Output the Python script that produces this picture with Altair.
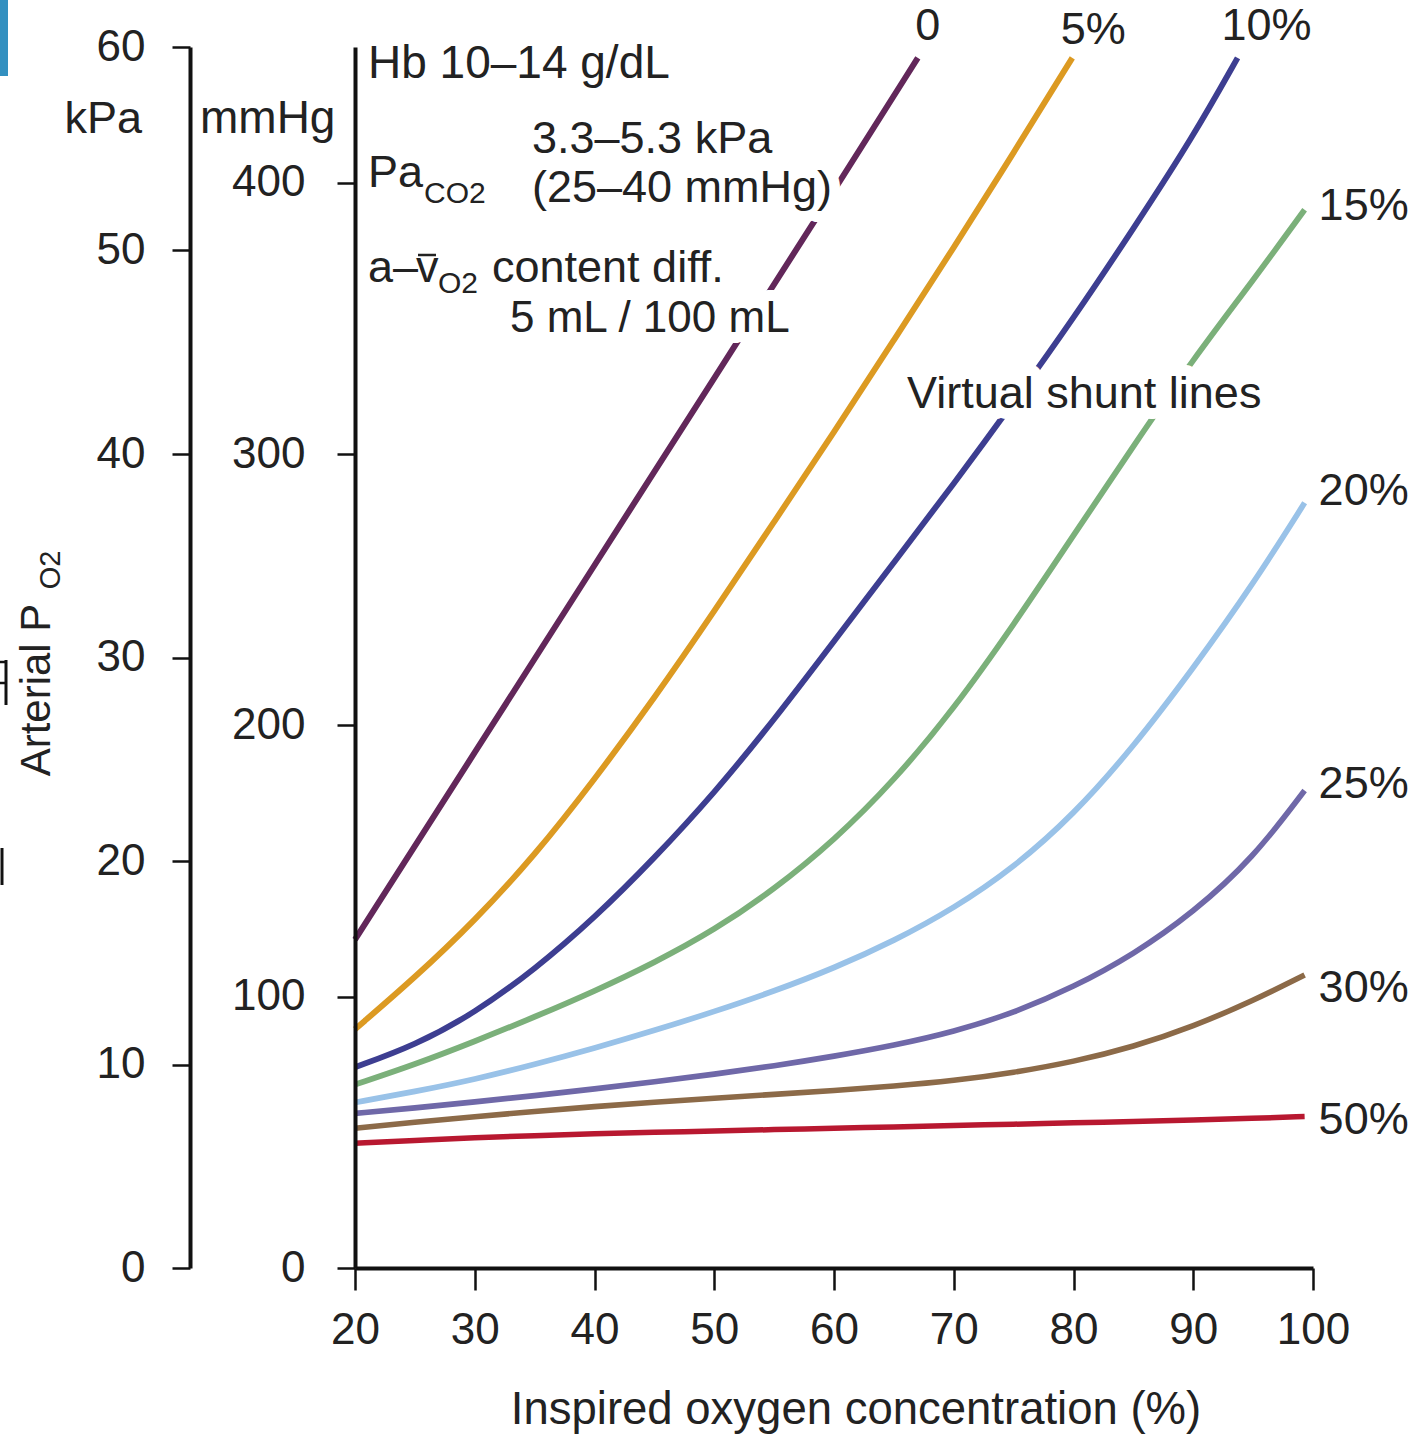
import altair as alt
import pandas as pd

# ---------------- data ----------------
shunts = ["0", "5%", "10%", "15%", "20%", "25%", "30%", "50%"]

fio2_0 = [20, 30, 40, 50, 60, 67]
pao2_0 = [121, 190, 259, 328, 397, 446]

fio2_5 = [20, 25, 30, 35, 40, 45, 50, 55, 60, 65, 70, 75, 79.9]
pao2_5 = [88, 107, 128, 152, 180, 210, 242, 275, 308, 342, 376, 411, 446]

fio2_10 = [20, 25, 30, 35, 40, 45, 50, 55, 60, 65, 70, 75, 80, 85, 90, 93.7]
pao2_10 = [74, 82, 94, 110, 129, 151, 175, 202, 231, 260, 289, 319, 350, 383, 417, 446]

fio2_grid = [20, 25, 30, 35, 40, 45, 50, 55, 60, 65, 70, 75, 80, 85, 90, 95, 99.3]
pao2_15 = [67.6, 75, 83.5, 92.5, 102, 112.5, 124.5, 139.5, 157.5, 179.5, 206, 237, 270, 303, 335, 364, 390]
pao2_20 = [61, 65, 69.5, 75, 81, 87.5, 94.5, 102, 110.5, 120.5, 132.5, 147.5, 167, 192, 221, 252, 282]
pao2_25 = [57, 59, 61.2, 63.5, 66, 68.6, 71.4, 74.5, 78, 82, 87, 94, 103.5, 115.5, 131, 151, 176]
pao2_30 = [51.5, 53.7, 55.8, 57.7, 59.5, 61.1, 62.6, 64, 65.4, 67, 69, 72, 76, 81.5, 89, 98.5, 108]
pao2_50 = [46, 47, 48, 48.8, 49.5, 50, 50.5, 51, 51.5, 52, 52.5, 53, 53.5, 54, 54.5, 55.2, 55.8]

fio2_ticks = [20, 30, 40, 50, 60, 70, 80, 90, 100]
mmhg_ticks = [0, 100, 200, 300, 400]
kpa_ticks = [0, 10, 20, 30, 40, 50, 60]

# ---------------- styles ----------------
colors = ["#62275a", "#dc9a22", "#3d3e91", "#7bb07a", "#99c2e8", "#6f68a8", "#8c6a48", "#b81830"]
widths = [6, 5.5, 5.5, 4, 4.5, 5, 4.5, 5]
FONT = "Liberation Sans"
INK = "#222222"

series = [
    ("0", fio2_0, pao2_0), ("5%", fio2_5, pao2_5), ("10%", fio2_10, pao2_10),
    ("15%", fio2_grid, pao2_15), ("20%", fio2_grid, pao2_20), ("25%", fio2_grid, pao2_25),
    ("30%", fio2_grid, pao2_30), ("50%", fio2_grid, pao2_50),
]
rows = []
for name, xs, ys in series:
    for x, y in zip(xs, ys):
        rows.append({"shunt": name, "fio2": x, "pao2": y})
df = pd.DataFrame(rows)
ends = df.groupby("shunt", sort=False).tail(1).reset_index(drop=True)

X = alt.X("fio2:Q", scale=alt.Scale(domain=[20, 100], nice=False, zero=False),
          axis=alt.Axis(values=fio2_ticks, title=None, grid=False, domainWidth=4, domainColor="#111",
                        tickColor="#111", tickWidth=2.5, tickSize=22, labelFont=FONT, labelFontSize=44,
                        labelColor=INK, labelPadding=18, labelFlush=False, labelOverlap=False, zindex=1))
Y = alt.Y("pao2:Q", scale=alt.Scale(domain=[0, 450], nice=False, zero=True),
          axis=alt.Axis(values=mmhg_ticks, title=None, grid=False, domainWidth=4, domainColor="#111",
                        tickColor="#111", tickWidth=2.5, tickSize=18, labelFont=FONT, labelFontSize=44,
                        labelColor=INK, labelPadding=32, labelOverlap=False, zindex=1))

lines = alt.Chart(df).mark_line(interpolate="basis", strokeCap="butt").encode(
    x=X, y=Y,
    color=alt.Color("shunt:N", scale=alt.Scale(domain=shunts, range=colors), legend=None),
    strokeWidth=alt.StrokeWidth("shunt:N", scale=alt.Scale(domain=shunts, range=widths), legend=None),
    order="fio2:Q",
)

# line-end labels: (align, dx, dy, baseline)
label_style = {
    "0": ("center", 10, -18, "alphabetic"),
    "5%": ("center", 21, -14, "alphabetic"),
    "10%": ("center", 29, -18, "alphabetic"),
    "15%": ("left", 14, -4, "middle"),
    "20%": ("left", 14, -12, "middle"),
    "25%": ("left", 14, -6, "middle"),
    "30%": ("left", 14, 13, "middle"),
    "50%": ("left", 14, 3, "middle"),
}
label_layers = []
for name in shunts:
    al, dx, dy, bl = label_style[name]
    label_layers.append(
        alt.Chart(ends).transform_filter(alt.datum.shunt == name).mark_text(
            align=al, baseline=bl, dx=dx, dy=dy, font=FONT, fontSize=45, color=INK
        ).encode(x=X, y=Y, text="shunt:N")
    )


def note(text, x, y, size=45, align="left", baseline="alphabetic", angle=0, halo=False):
    d = pd.DataFrame({"t": [text]})
    layers = []
    if halo:
        layers.append(alt.Chart(d).mark_text(
            align=align, baseline=baseline, angle=angle, font=FONT, fontSize=size,
            fill="white", stroke="white", strokeWidth=22, strokeJoin="round"
        ).encode(x=alt.value(x), y=alt.value(y), text="t:N"))
    layers.append(alt.Chart(d).mark_text(
        align=align, baseline=baseline, angle=angle, font=FONT, fontSize=size, color=INK
    ).encode(x=alt.value(x), y=alt.value(y), text="t:N"))
    return layers


notes = []
notes += note("Hb 10–14 g/dL", 13, 31, 46)
notes += note("Pa", 13, 140, 45)
notes += note("CO2", 69, 156, 30)
notes += note("3.3–5.3 kPa", 177, 106, 45)
notes += note("(25–40 mmHg)", 177, 155, 45, halo=True)
notes += note("a–", 13, 235, 45)
notes += note("v", 61, 235, 45)
notes += note("O2", 83, 246, 30)
notes += note("content diff.", 137, 235, 45)
notes += note("5 mL / 100 mL", 155, 285, 44, halo=True)
notes += note("Virtual shunt lines", 552, 361, 45, halo=True)
notes += note("kPa", -213, 86, 45, align="right")
notes += note("mmHg", -155, 86, 46)
notes += note("Inspired oxygen concentration (%)", 501, 1377, 45.5, align="center")
notes += note("Arterial P", -305, 643, 42, align="center", angle=270)
notes += note("O2", -295, 523, 29, align="center", angle=270)

one = pd.DataFrame({"k": [0]})
# bar over the v of a–v̄
vbar = alt.Chart(one).mark_rule(color=INK, strokeWidth=2.5).encode(
    x=alt.value(63), x2=alt.value(81), y=alt.value(208))

# cropped bits at the image's left edge
edge = [
    alt.Chart(one).mark_rect(color="#3390c0").encode(
        x=alt.value(-355), x2=alt.value(-347), y=alt.value(-47), y2=alt.value(29)),
    alt.Chart(one).mark_rule(color="#111", strokeWidth=3).encode(
        x=alt.value(-353), y=alt.value(801), y2=alt.value(838)),
    alt.Chart(one).mark_rule(color="#111", strokeWidth=3).encode(
        x=alt.value(-349), y=alt.value(613), y2=alt.value(658)),
    alt.Chart(one).mark_rule(color="#111", strokeWidth=2.5).encode(
        x=alt.value(-355), x2=alt.value(-348), y=alt.value(615)),
    alt.Chart(one).mark_rule(color="#111", strokeWidth=2.5).encode(
        x=alt.value(-355), x2=alt.value(-348), y=alt.value(636)),
]

main = alt.layer(lines, *label_layers, *notes, vbar, *edge)

kpa_df = pd.DataFrame({"kpa": kpa_ticks})
kpa_layer = alt.Chart(kpa_df).mark_point(opacity=0).encode(
    y=alt.Y("kpa:Q", scale=alt.Scale(domain=[0, 60], nice=False, zero=True),
            axis=alt.Axis(orient="left", offset=165, values=kpa_ticks, title=None, grid=False,
                          domainWidth=4, domainColor="#111", tickColor="#111", tickWidth=2.5,
                          tickSize=18, labelFont=FONT, labelFontSize=44, labelColor=INK,
                          labelPadding=27, labelOverlap=False, zindex=1))
)

chart = alt.layer(main, kpa_layer).resolve_scale(y="independent").properties(
    width=958, height=1221,
    autosize=alt.AutoSizeParams(type="none"),
    padding={"left": 355, "top": 47, "right": 105, "bottom": 172},
    background="white",
).configure_view(stroke=None)

chart.save("out.html", embed_options={"renderer": "svg", "actions": False})
